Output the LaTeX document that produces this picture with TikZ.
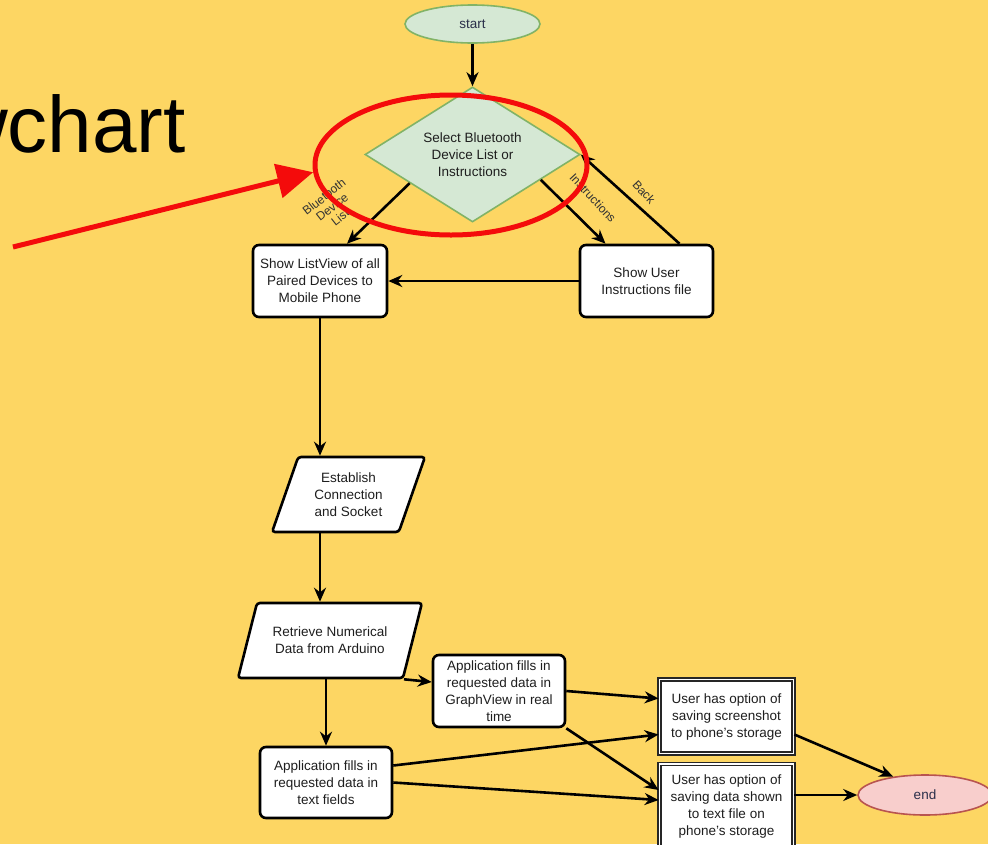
\documentclass[tikz,border=0pt]{standalone}
\usepackage{fontspec}
\setmainfont{Liberation Sans}
\usetikzlibrary{shapes.geometric,arrows.meta,calc}

\definecolor{slidebg}{HTML}{FDD663}
\definecolor{termgreen}{HTML}{D5E8D4}
\definecolor{termgreenline}{HTML}{82B366}
\definecolor{termred}{HTML}{F8CECC}
\definecolor{termredline}{HTML}{B85450}
\definecolor{inktext}{HTML}{1E1E1E}
\definecolor{termtext}{HTML}{2A2F4A}
\definecolor{marker}{HTML}{F40B0B}

\begin{document}
\begin{tikzpicture}[x=1pt,y=-1pt,
  every node/.style={inner sep=0pt, text=inktext,
    font=\fontsize{13.5}{17}\selectfont, align=center},
  terminal/.style={ellipse, minimum width=#1, minimum height=38pt,
    line width=1.6pt, text=termtext},
  decision/.style={diamond, shape aspect=1.6, draw=termgreenline,
    fill=termgreen, line width=1.6pt,
    minimum width=215pt, minimum height=135pt},
  procbox/.style={rectangle, rounded corners=6pt, draw=black, fill=white,
    line width=2.6pt},
  iobox/.style={trapezium, trapezium left angle=#1,
    trapezium right angle=180-#1, trapezium stretches=true,
    draw=black, fill=white, line width=2.6pt, rounded corners=3pt},
  outbox/.style={rectangle, draw=black!85, double=white, fill=white,
    line width=1.8pt, double distance=1.3pt},
  flow/.style={-{Stealth[length=14pt,width=12pt]}, line width=2.6pt,
    draw=black},
  edgelabel/.style={font=\fontsize{12}{13}\selectfont, text=black!80},
  pointer/.style={-{Triangle[length=36pt,width=34pt]}, line width=5pt,
    draw=marker}
]
% slide background and frame
\useasboundingbox (0,0) rectangle (988,844);
\clip (0,0) rectangle (988,844);
\fill[slidebg] (0,0) rectangle (988,844);

% slide title, running off the left edge
\node[anchor=base east, font=\fontsize{80}{84}\selectfont, text=black]
  (title) at (186,152) {Flowchart};

% flowchart nodes
\node[terminal=135pt, draw=termgreenline, fill=termgreen]
  (start) at (472.5,24) {start};
\node[decision] (choose) at (472.5,154.5)
  {Select Bluetooth\\Device List or\\Instructions};

\node[procbox, minimum width=134pt, minimum height=72pt]
  (devices) at (320,281) {Show ListView of all\\Paired Devices to\\Mobile Phone};
\node[procbox, minimum width=133pt, minimum height=72pt]
  (help) at (646.5,281) {Show User\\Instructions file};

\node[iobox=68, minimum width=153pt, minimum height=75pt]
  (connect) at (348.5,494.5) {Establish\\Connection\\and Socket};
\node[iobox=61, minimum width=184pt, minimum height=75pt]
  (fetch) at (330,640.5) {Retrieve Numerical\\Data from Arduino};

\node[procbox, minimum width=132pt, minimum height=72pt]
  (graph) at (499,691) {Application fills in\\requested data in\\GraphView in real\\time};
\node[procbox, minimum width=132pt, minimum height=71pt]
  (fields) at (326,782.5) {Application fills in\\requested data in\\text fields};

\node[outbox, minimum width=134pt, minimum height=74pt]
  (shot) at (726.5,716.5) {User has option of\\saving screenshot\\to phone's storage};
\node[outbox, minimum width=134pt, minimum height=84pt]
  (textfile) at (726.5,806) {User has option of\\saving data shown\\to text file on\\phone's storage};

\node[terminal=134pt, minimum height=40pt, draw=termredline, fill=termred]
  (stop) at (925,795) {end};

% connectors
\draw[flow] (start) -- (choose);
\draw[flow] ($(choose.west)!0.42!(choose.south)$) -- ([xshift=27pt]devices.north);
\draw[flow] ($(choose.east)!0.37!(choose.south)$) -- ([xshift=-41pt]help.north);
\draw[flow] ([xshift=33pt]help.north) -- (choose.east);
\draw[flow] (help.west) -- (devices.east);
\draw[flow] (devices.south) -- (devices.south |- connect.north);
\draw[flow] (devices.south |- connect.south) -- (devices.south |- fetch.north);
\draw[flow] (fetch.bottom right corner) -- ([yshift=9pt]graph.west);
\draw[flow] (fields.north |- fetch.south) -- (fields.north);
\draw[flow] (graph.east) -- ([yshift=18pt]shot.west);
\draw[flow] ([yshift=17pt]fields.east) -- ([yshift=-18pt]shot.west);
\draw[flow] (graph.south east) -- ([yshift=16pt]textfile.west);
\draw[flow] (fields.east) -- ([yshift=6pt]textfile.west);
\draw[flow] ([yshift=-18pt]shot.east) -- (stop.150);
\draw[flow] (stop.west -| textfile.east) -- (stop.west);

% connector labels
\node[edgelabel, rotate=38] (lblist) at (332,207) {Bluetooth\\Device\\List};
\node[edgelabel, rotate=-47] (lbhelp) at (593,198) {Instructions};
\node[edgelabel, rotate=-47] (lbback) at (644,192) {Back};

% red highlight around the decision and its pointer
\node[ellipse, draw=marker, line width=5pt, minimum width=272pt,
  minimum height=140pt] (ring) at (451,165) {};
\coordinate (tail) at (13,247);
\draw[pointer] (tail) -- (ring.183);
\end{tikzpicture}
\end{document}
